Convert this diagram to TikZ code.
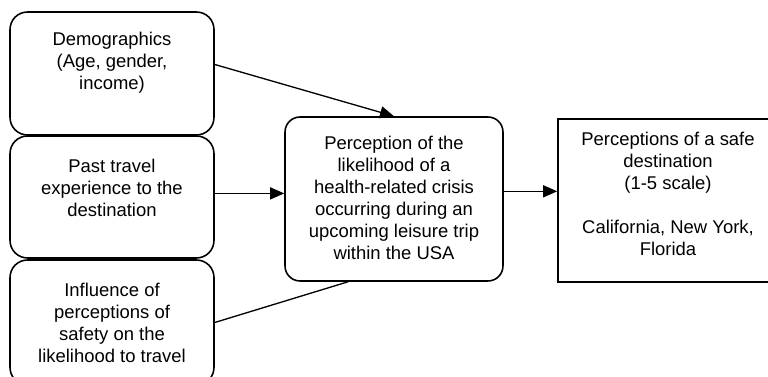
\documentclass[tikz,border=0pt]{standalone}
\usepackage{fontspec}
\setmainfont{Liberation Sans}
\usepackage{tikz}
\usetikzlibrary{arrows.meta, positioning}

\begin{document}
\begin{tikzpicture}[
    x=0.02cm, y=-0.02cm,
    factor/.style={rectangle, rounded corners=0.35cm, draw=black, line width=0.9pt,
                   minimum width=4.08cm, inner sep=0pt},
    crisisbox/.style={rectangle, rounded corners=0.3cm, draw=black, line width=0.9pt,
                      minimum width=4.36cm, minimum height=3.28cm, inner sep=0pt},
    outbox/.style={rectangle, draw=black, line width=0.9pt,
                   minimum width=4.4cm, minimum height=3.26cm, inner sep=0pt},
    txt/.style={align=center, inner sep=0pt, font=\fontsize{10.5}{12.5}\selectfont},
    arrow/.style={-{Triangle[length=0.28cm, width=0.24cm]}, line width=0.75pt},
    plain/.style={line width=0.75pt}
]
\useasboundingbox (0,0) rectangle (768,377);

% antecedents
\node[factor, minimum height=2.46cm] (demo) at (112,73.5) {};
\node[txt, below=0.41cm of demo.north] (demo_txt) {Demographics\\(Age, gender,\\income)};

\node[factor, minimum height=2.44cm] (past) at (112,197) {};
\node[txt, below=0.48cm of past.north] (past_txt) {Past travel\\experience to the\\destination};

\node[factor, minimum height=2.5cm] (infl) at (112,322.5) {};
\node[txt, below=0.47cm of infl.north] (infl_txt) {Influence of\\perceptions of\\safety on the\\likelihood to travel};

% mediator
\node[crisisbox] (crisis) at (394,199) {};
\node[txt, below=0.4cm of crisis.north] (crisis_txt) {Perception of the\\likelihood of a\\health-related crisis\\occurring during an\\upcoming leisure trip\\within the USA};

% outcome
\node[outbox] (safe) at (668,200.5) {};
\node[txt, below=0.28cm of safe.north] (safe_txt) {Perceptions of a safe\\destination\\(1-5 scale)\\[12.5pt]California, New York,\\Florida};

\draw[arrow] (demo.5) -- (crisis.north);
\draw[arrow] (past.2) -- (past.2 -| crisis.west);
\draw[plain] (infl.east) -- (crisis.241);
\draw[arrow] (crisis.4) -- (crisis.4 -| safe.west);

\end{tikzpicture}
\end{document}
